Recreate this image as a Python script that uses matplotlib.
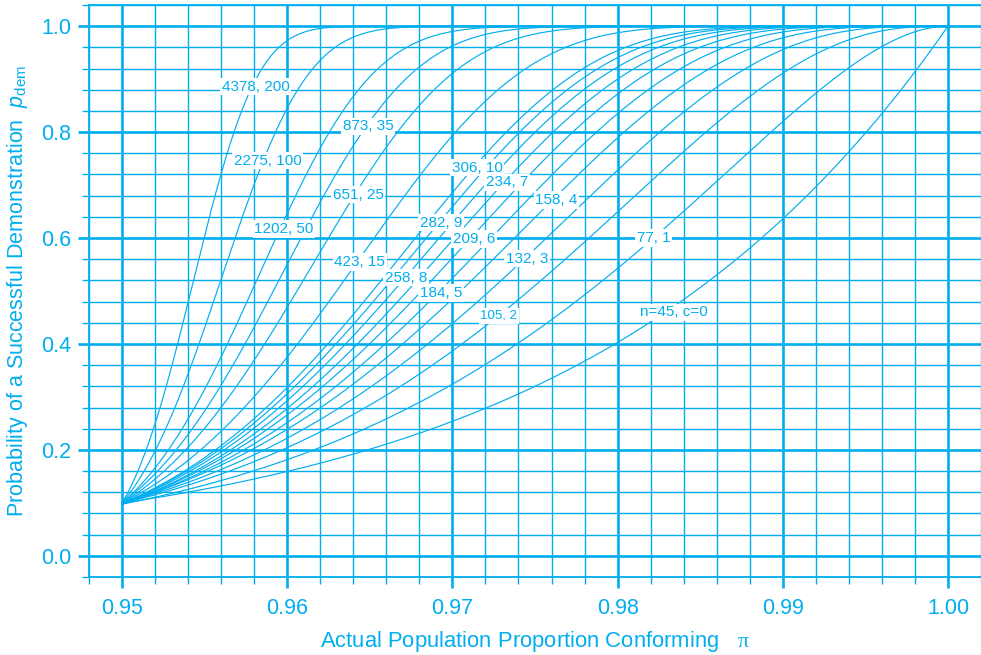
import math
import numpy as np
import matplotlib
matplotlib.use('Agg')
import matplotlib.pyplot as plt
from matplotlib.ticker import MultipleLocator

CYAN = '#00aeef'

# sampling plans: sample size n, allowed number nonconforming c
plan_n = [45, 77, 105, 132, 158, 184, 209, 234, 258, 282, 306, 423, 651, 873, 1202, 2275, 4378]
plan_c = [0, 1, 2, 3, 4, 5, 6, 7, 8, 9, 10, 15, 25, 35, 50, 100, 200]
plan_labels = ['n=45, c=0', '77, 1', '105, 2', '132, 3', '158, 4', '184, 5', '209, 6',
               '234, 7', '258, 8', '282, 9', '306, 10', '423, 15', '651, 25', '873, 35',
               '1202, 50', '2275, 100', '4378, 200']

x_ticks = [0.95, 0.96, 0.97, 0.98, 0.99, 1.00]
x_ticklabels = ['0.95', '0.96', '0.97', '0.98', '0.99', '1.00']
y_ticks = [0.0, 0.2, 0.4, 0.6, 0.8, 1.0]
y_ticklabels = ['0.0', '0.2', '0.4', '0.6', '0.8', '1.0']

# where each plan's label sits (data coords)
label_xy = [(0.9834, 0.460), (0.9822, 0.600), (0.9728, 0.453), (0.9745, 0.561),
            (0.9763, 0.672), (0.9693, 0.496), (0.9713, 0.598), (0.9733, 0.705),
            (0.9672, 0.525), (0.9693, 0.629), (0.9715, 0.733), (0.9644, 0.555),
            (0.9643, 0.682), (0.9649, 0.811), (0.9598, 0.617), (0.9588, 0.746),
            (0.9581, 0.886)]

plt.rcParams['font.family'] = ['Liberation Sans', 'DejaVu Sans']
plt.rcParams['mathtext.fontset'] = 'custom'
plt.rcParams['mathtext.rm'] = 'Liberation Serif'
plt.rcParams['mathtext.it'] = 'Liberation Sans:italic'
plt.rcParams['mathtext.sf'] = 'Liberation Sans'


def p_dem(n, c, pi):
    # P(X <= c), X ~ Binomial(n, 1 - pi), summed in log space
    q = np.maximum(1.0 - pi, 1e-300)
    total = np.zeros_like(pi)
    for k in range(c + 1):
        logc = math.lgamma(n + 1) - math.lgamma(k + 1) - math.lgamma(n - k + 1)
        total += np.exp(logc + k * np.log(q) + (n - k) * np.log(pi))
    return np.minimum(total, 1.0)


fig = plt.figure(figsize=(9.81, 6.55), dpi=100)
ax = fig.add_axes([89 / 981, 78 / 655, 892 / 981, 572 / 655])

pi = np.linspace(0.95, 1.0, 800)
for n, c in zip(plan_n, plan_c):
    ax.plot(pi, p_dem(n, c, pi), color=CYAN, lw=0.85, zorder=3)

for txt, (lx, ly) in zip(plan_labels, label_xy):
    fs = 9.5 if txt == '105, 2' else 11
    ax.text(lx, ly, txt, color=CYAN, fontsize=fs, ha='center', va='center', zorder=5,
            bbox=dict(facecolor='white', edgecolor='none', pad=1.2))

ax.set_xlim(0.948, 1.002)
ax.set_ylim(-0.04, 1.04)
ax.set_xticks(x_ticks)
ax.set_xticklabels(x_ticklabels)
ax.set_yticks(y_ticks)
ax.set_yticklabels(y_ticklabels)
ax.xaxis.set_minor_locator(MultipleLocator(0.002))
ax.yaxis.set_minor_locator(MultipleLocator(0.04))

ax.grid(which='major', color=CYAN, lw=1.9, zorder=1)
ax.grid(which='minor', color=CYAN, lw=1.0, zorder=1)
ax.set_axisbelow(True)

ax.tick_params(which='major', direction='out', length=8, width=1.9, color=CYAN,
               labelcolor=CYAN, labelsize=15.5)
ax.tick_params(which='minor', direction='out', length=5, width=1.0, color=CYAN)
ax.tick_params(axis='x', which='major', pad=7)
ax.tick_params(axis='y', which='major', pad=5)

for side in ['left', 'bottom', 'top']:
    ax.spines[side].set_color(CYAN)
    ax.spines[side].set_linewidth(1.3)
ax.spines['right'].set_visible(False)

ax.set_xlabel(r'Actual Population Proportion Conforming   $\mathrm{\pi}$',
              color=CYAN, fontsize=15.8, labelpad=7)
ax.set_ylabel(r'Probability of a Successful Demonstration  $p_{\mathsf{dem}}$',
              color=CYAN, fontsize=15.5, labelpad=8)

fig.savefig('out.png', dpi=100)
